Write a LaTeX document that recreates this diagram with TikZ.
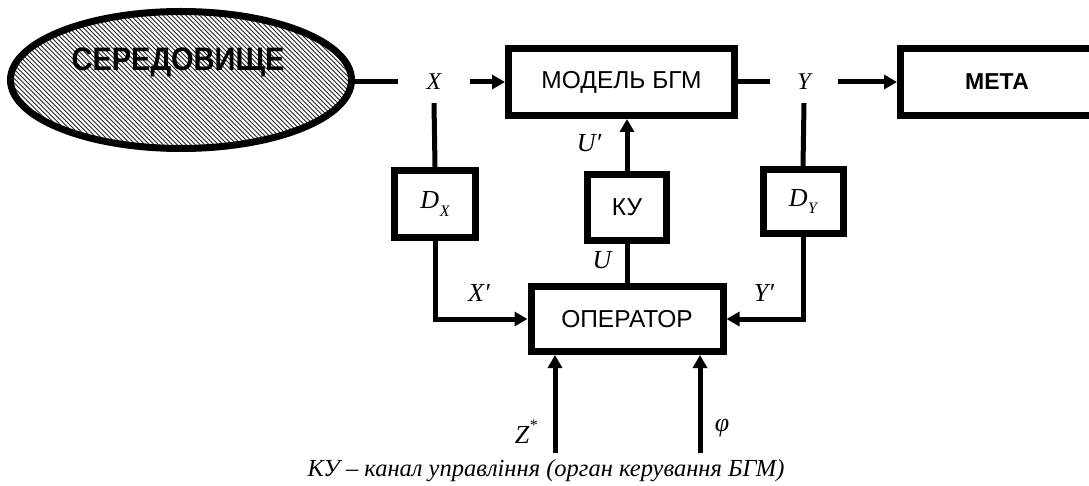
\documentclass[tikz,border=0pt]{standalone}
\usepackage{fontspec}
\setmainfont{Liberation Serif}
\newfontfamily\arial{Liberation Sans}
\usetikzlibrary{arrows.meta,shapes.geometric}

\tikzset{
  box/.style={draw, line width=7pt, inner sep=0pt, fill=white,
    font=\arial\fontsize{24.5}{24.5}\selectfont},
  wire/.style={line width=5pt},
  arr/.style={wire, -{Triangle[length=13pt,width=14pt]}},
  lab/.style={inner sep=0pt, font=\fontsize{26}{26}\selectfont\itshape},
  gap/.style={inner sep=0pt, font=\fontsize{24}{24}\selectfont\itshape},
  hatch/.style={line width=0.9pt, black!85},
  env/.style={draw, ellipse, line width=7pt, inner sep=0pt,
    minimum width=341pt, minimum height=137pt},
}

\newcommand{\sub}[2]{#1\kern0.5pt\raisebox{-0.3em}{\fontsize{16}{16}\selectfont #2}}

\begin{document}
\begin{tikzpicture}[x=1pt, y=-1pt]
  \useasboundingbox (0,0) rectangle (1089,486);

  % environment: hatched ellipse
  \begin{scope}
    \clip (181,80) ellipse [x radius=172, y radius=70];
    \foreach \i in {-170,-165.4,...,370} \draw[hatch] (\i,0) -- ++(170,170);
  \end{scope}
  \node[env] (env) at (181,80) {};
  \node[font=\arial\bfseries\fontsize{29}{29}\selectfont, inner sep=0pt]
    (envtxt) at (178,62) {\scalebox{1}[1.12]{СЕРЕДОВИЩЕ}};

  % blocks
  \node[box, minimum width=226pt, minimum height=67pt] (model) at (621.5,82) {МОДЕЛЬ БГМ};
  \node[box, minimum width=193pt, minimum height=67pt,
        font=\arial\bfseries\fontsize{23}{23}\selectfont] (meta) at (997,82) {МЕТА};
  \node[box, minimum width=81pt, minimum height=67pt] (dx) at (435,204)
    {\rmfamily\fontsize{26}{26}\selectfont\itshape\sub{D}{X}};
  \node[box, minimum width=79pt, minimum height=66pt] (ku) at (627,207.5) {КУ};
  \node[box, minimum width=80pt, minimum height=64pt] (dy) at (803,201.5)
    {\rmfamily\fontsize{26}{26}\selectfont\itshape\sub{D}{Y}};
  \node[box, minimum width=192pt, minimum height=65pt] (op) at (627,319) {ОПЕРАТОР};

  % signal labels that interrupt the main line
  \node[gap, minimum width=72pt, minimum height=42pt] (xl) at (434,82) {X};
  \node[gap, minimum width=68pt, minimum height=42pt] (yl) at (804,82) {Y};

  % main line
  \draw[wire] (xl.west -| env.east) -- (xl.west);
  \draw[arr] (xl.east) -- (model.west);
  \draw[wire] (model.east) -- (yl.west);
  \draw[arr] (yl.east) -- (meta.west);

  % measurement branches
  \draw[wire] (xl.south) -- (dx.north);
  \draw[wire] (yl.south) -- (dy.north);
  \draw[arr] (dx.south) |- (op.west);
  \draw[arr] (dy.south) |- (op.east);

  % control channel
  \draw[wire] (op.north) -- (ku.south);
  \draw[arr] (ku.north) -- (ku.north |- model.south);

  % external inputs to the operator
  \coordinate (zin) at (555,453);
  \coordinate (phin) at (700,453);
  \draw[arr] (zin) -- (zin |- op.south);
  \draw[arr] (phin) -- (phin |- op.south);

  % labels
  \node[lab] (lu1) at (589,143) {U′};
  \node[lab] (lu) at (602,260) {U};
  \node[lab] (lx1) at (479,293) {X′};
  \node[lab] (ly1) at (764,293) {Y′};
  \node[lab] (lz) at (526,432) {Z\raisebox{0.5em}{\fontsize{16}{16}\selectfont *}};
  \node[lab] (lphi) at (722,428) {φ};

  \node[inner sep=0pt, font=\fontsize{24.5}{24.5}\selectfont\itshape] (cap) at (546,471)
    {КУ – канал управління (орган керування БГМ)};
\end{tikzpicture}
\end{document}
